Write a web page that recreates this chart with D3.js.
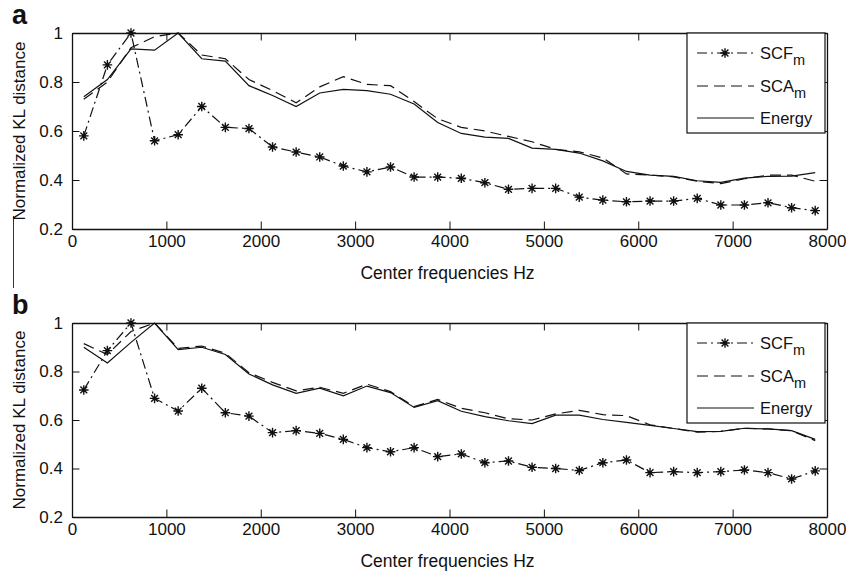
<!DOCTYPE html>
<html>
<head>
<meta charset="utf-8">
<script src="https://cdn.jsdelivr.net/npm/d3@7"></script>
<style>
  html, body { margin: 0; padding: 0; background: #fff; }
  svg { display: block; }
  text { font-family: "Liberation Sans", Arial, Helvetica, sans-serif; fill: #111; }
</style>
</head>
<body>
<svg id="chart" width="846" height="573"></svg>
<script>
// ---------------- data ----------------
const freqs = [125, 375, 625, 875, 1125, 1375, 1625, 1875, 2125, 2375, 2625, 2875, 3125, 3375, 3625, 3875,
               4125, 4375, 4625, 4875, 5125, 5375, 5625, 5875, 6125, 6375, 6625, 6875, 7125, 7375, 7625, 7875];

// panel a
const scfA = [0.58, 0.87, 1.0, 0.56, 0.585, 0.70, 0.615, 0.61, 0.535, 0.514, 0.494, 0.457, 0.433, 0.453, 0.412, 0.412,
              0.407, 0.389, 0.362, 0.366, 0.366, 0.33, 0.318, 0.311, 0.314, 0.314, 0.325, 0.298, 0.298, 0.307, 0.287, 0.275];
const scaA = [0.73, 0.80, 0.94, 0.985, 1.0, 0.91, 0.895, 0.81, 0.765, 0.715, 0.78, 0.822, 0.79, 0.785, 0.72, 0.65,
              0.615, 0.60, 0.578, 0.556, 0.525, 0.515, 0.49, 0.425, 0.42, 0.413, 0.395, 0.385, 0.405, 0.42, 0.42, 0.395];
const energyA = [0.74, 0.81, 0.935, 0.93, 1.0, 0.895, 0.885, 0.785, 0.745, 0.70, 0.755, 0.77, 0.765, 0.75, 0.71, 0.635,
                 0.59, 0.575, 0.57, 0.53, 0.525, 0.51, 0.478, 0.435, 0.42, 0.415, 0.397, 0.39, 0.408, 0.415, 0.416, 0.43];

// panel b
const scfB = [0.724, 0.886, 1.0, 0.689, 0.637, 0.731, 0.63, 0.616, 0.548, 0.556, 0.545, 0.52, 0.486, 0.469, 0.486, 0.449,
              0.46, 0.424, 0.431, 0.405, 0.40, 0.392, 0.424, 0.435, 0.383, 0.387, 0.383, 0.387, 0.394, 0.383, 0.357, 0.39];
const scaB = [0.915, 0.87, 0.965, 1.0, 0.895, 0.905, 0.875, 0.795, 0.755, 0.72, 0.735, 0.71, 0.748, 0.717, 0.655, 0.685,
              0.648, 0.63, 0.605, 0.60, 0.625, 0.64, 0.622, 0.618, 0.58, 0.565, 0.55, 0.553, 0.566, 0.563, 0.556, 0.515];
const energyB = [0.90, 0.835, 0.92, 1.0, 0.89, 0.90, 0.87, 0.79, 0.745, 0.71, 0.731, 0.70, 0.74, 0.713, 0.652, 0.68,
                 0.636, 0.614, 0.597, 0.585, 0.62, 0.62, 0.602, 0.59, 0.578, 0.565, 0.552, 0.553, 0.566, 0.563, 0.556, 0.52];

const xTicks = [0, 1000, 2000, 3000, 4000, 5000, 6000, 7000, 8000];
const xTickLabels = ["0", "1000", "2000", "3000", "4000", "5000", "6000", "7000", "8000"];
const yTicks = [0.2, 0.4, 0.6, 0.8, 1.0];
const yTickLabels = ["0.2", "0.4", "0.6", "0.8", "1"];

const panelLabels = ["a", "b"];
const xTitle = "Center frequencies Hz";
const yTitle = "Normalized KL distance";
const legendNames = [["SCF", "m"], ["SCA", "m"], ["Energy", ""]];

// ---------------- drawing ----------------
const svg = d3.select("#chart");
const INK = "#111";

const left = 72, right = 827;
const panels = [
  { top: 33, bottom: 229, scf: scfA, sca: scaA, energy: energyA, label: panelLabels[0] },
  { top: 323, bottom: 517, scf: scfB, sca: scaB, energy: energyB, label: panelLabels[1] }
];

const x = d3.scaleLinear().domain([0, 8000]).range([left, right]);

// stray page rule at left edge of the figure
svg.append("line").attr("x1", 13.5).attr("x2", 13.5).attr("y1", 216).attr("y2", 288)
  .attr("stroke", "#333").attr("stroke-width", 1);

const starPath = "M-4.8,0H4.8M0,-4.8V4.8M-3.4,-3.4L3.4,3.4M-3.4,3.4L3.4,-3.4";

panels.forEach((p, pi) => {
  const y = d3.scaleLinear().domain([0.2, 1]).range([p.bottom, p.top]);
  const g = svg.append("g");

  g.append("rect").attr("x", left).attr("y", p.top).attr("width", right - left).attr("height", p.bottom - p.top)
    .attr("fill", "#fff");

  const tk = 7.5;
  const fmtX = d => xTickLabels[xTicks.indexOf(d)];
  const fmtY = d => yTickLabels[yTicks.findIndex(v => Math.abs(v - d) < 1e-9)];

  const ax = [
    g.append("g").attr("transform", `translate(0,${p.bottom})`)
      .call(d3.axisBottom(x).tickValues(xTicks).tickFormat(fmtX).tickSizeInner(-tk).tickSizeOuter(0).tickPadding(6)),
    g.append("g").attr("transform", `translate(0,${p.top})`)
      .call(d3.axisTop(x).tickValues(xTicks).tickFormat("").tickSizeInner(-tk).tickSizeOuter(0)),
    g.append("g").attr("transform", `translate(${left},0)`)
      .call(d3.axisLeft(y).tickValues(yTicks).tickFormat(fmtY).tickSizeInner(-tk).tickSizeOuter(0).tickPadding(9)),
    g.append("g").attr("transform", `translate(${right},0)`)
      .call(d3.axisRight(y).tickValues(yTicks).tickFormat("").tickSizeInner(-tk).tickSizeOuter(0))
  ];
  ax.forEach(a => {
    a.selectAll("path.domain").attr("stroke", INK).attr("stroke-width", 1.3);
    a.selectAll(".tick line").attr("stroke", INK).attr("stroke-width", 1);
    a.selectAll(".tick text").attr("fill", INK).style("font-size", "17px")
      .style("font-family", "'Liberation Sans', Arial, sans-serif");
  });

  const line = vals => d3.line().x((d, i) => x(freqs[i])).y(d => y(d))(vals);
  g.append("path").attr("d", line(p.sca)).attr("fill", "none").attr("stroke", INK)
    .attr("stroke-width", 1.2).attr("stroke-dasharray", "11,6");
  g.append("path").attr("d", line(p.energy)).attr("fill", "none").attr("stroke", INK)
    .attr("stroke-width", 1.2);
  g.append("path").attr("d", line(p.scf)).attr("fill", "none").attr("stroke", INK)
    .attr("stroke-width", 1.2).attr("stroke-dasharray", "10,4,2,4");
  g.selectAll("path.star").data(p.scf).enter().append("path").attr("class", "star")
    .attr("d", starPath)
    .attr("transform", (d, i) => `translate(${x(freqs[i])},${y(d)})`)
    .attr("stroke", INK).attr("stroke-width", 1.4).attr("fill", "none");
  g.selectAll("circle.dot").data(p.scf).enter().append("circle").attr("class", "dot")
    .attr("cx", (d, i) => x(freqs[i])).attr("cy", d => y(d)).attr("r", 1.8).attr("fill", INK);

  g.append("text").attr("x", (left + right) / 2 - 2).attr("y", p.bottom + 50)
    .attr("text-anchor", "middle").style("font-size", "17.5px").text(xTitle);
  g.append("text").attr("transform", `translate(25,${(p.top + p.bottom) / 2}) rotate(-90)`)
    .attr("text-anchor", "middle").style("font-size", "17px").text(yTitle);

  g.append("text").attr("x", 12).attr("y", p.top - 9).style("font-size", "27px")
    .style("font-weight", "bold").text(p.label);

  // legend
  const lx = 687, ly = p.top, lw = 138, lh = 100;
  const lg = g.append("g");
  lg.append("rect").attr("x", lx).attr("y", ly).attr("width", lw).attr("height", lh)
    .attr("fill", "#fff").attr("stroke", INK).attr("stroke-width", 1.2);
  const rows = [20, 53, 85];
  const styles = [
    { dash: "10,4,2,4", star: true },
    { dash: "11,6", star: false },
    { dash: null, star: false }
  ];
  legendNames.forEach((nm, i) => {
    const yy = ly + rows[i];
    const ln = lg.append("line").attr("x1", 697).attr("x2", 754).attr("y1", yy).attr("y2", yy)
      .attr("stroke", INK).attr("stroke-width", 1.2);
    if (styles[i].dash) ln.attr("stroke-dasharray", styles[i].dash);
    if (styles[i].star) {
      lg.append("path").attr("d", starPath).attr("transform", `translate(725,${yy})`)
        .attr("stroke", INK).attr("stroke-width", 1.4).attr("fill", "none");
      lg.append("circle").attr("cx", 725).attr("cy", yy).attr("r", 1.8).attr("fill", INK);
    }
    const t = lg.append("text").attr("x", 760).attr("y", yy + 6).style("font-size", "16.5px");
    t.append("tspan").text(nm[0]);
    if (nm[1]) t.append("tspan").attr("dy", 6).style("font-size", "14.5px").text(nm[1]);
  });
});
</script>
</body>
</html>
